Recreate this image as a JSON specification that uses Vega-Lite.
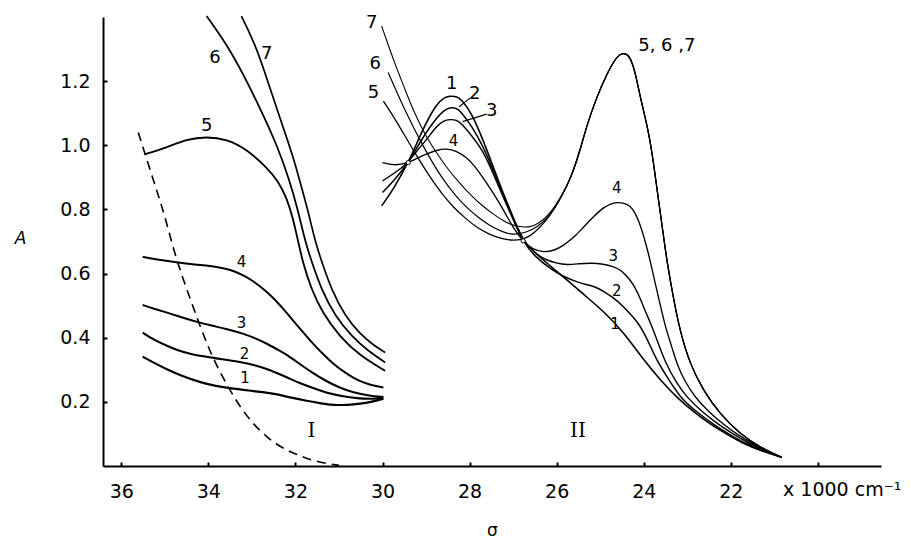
{
  "$schema": "https://vega.github.io/schema/vega-lite/v6.json",
  "width": 778,
  "height": 449,
  "autosize": {"type": "none"},
  "padding": {"left": 103, "top": 17, "right": 30, "bottom": 74},
  "background": "white",
  "config": {
    "view": {"stroke": null},
    "axis": {"grid": false, "domainColor": "black", "tickColor": "black", "labelColor": "black", "titleColor": "black", "labelFont": "DejaVu Sans", "titleFont": "DejaVu Sans", "titleFontWeight": "normal"}
  },
  "datasets": {
    "curves": [
      {"c":"I-1","sigma":35.51,"A":0.341},{"c":"I-1","sigma":35.2,"A":0.318},{"c":"I-1","sigma":34.96,"A":0.302},{"c":"I-1","sigma":34.6,"A":0.28},{"c":"I-1","sigma":34.19,"A":0.261},{"c":"I-1","sigma":33.85,"A":0.25},{"c":"I-1","sigma":33.54,"A":0.243},{"c":"I-1","sigma":33.05,"A":0.235},{"c":"I-1","sigma":32.7,"A":0.23},{"c":"I-1","sigma":32.43,"A":0.224},{"c":"I-1","sigma":32.1,"A":0.213},{"c":"I-1","sigma":31.74,"A":0.203},{"c":"I-1","sigma":31.4,"A":0.195},{"c":"I-1","sigma":31.13,"A":0.19},{"c":"I-1","sigma":30.8,"A":0.19},{"c":"I-1","sigma":30.52,"A":0.194},{"c":"I-1","sigma":30.2,"A":0.201},{"c":"I-1","sigma":29.98,"A":0.21},
      {"c":"I-2","sigma":35.51,"A":0.416},{"c":"I-2","sigma":35.25,"A":0.393},{"c":"I-2","sigma":34.96,"A":0.375},{"c":"I-2","sigma":34.7,"A":0.36},{"c":"I-2","sigma":34.42,"A":0.349},{"c":"I-2","sigma":33.85,"A":0.336},{"c":"I-2","sigma":33.28,"A":0.325},{"c":"I-2","sigma":32.89,"A":0.313},{"c":"I-2","sigma":32.66,"A":0.303},{"c":"I-2","sigma":32.43,"A":0.29},{"c":"I-2","sigma":32.2,"A":0.277},{"c":"I-2","sigma":31.9,"A":0.258},{"c":"I-2","sigma":31.6,"A":0.243},{"c":"I-2","sigma":31.28,"A":0.228},{"c":"I-2","sigma":30.9,"A":0.217},{"c":"I-2","sigma":30.52,"A":0.21},{"c":"I-2","sigma":30.2,"A":0.209},{"c":"I-2","sigma":29.98,"A":0.213},
      {"c":"I-3","sigma":35.51,"A":0.502},{"c":"I-3","sigma":35.25,"A":0.49},{"c":"I-3","sigma":34.96,"A":0.479},{"c":"I-3","sigma":34.6,"A":0.463},{"c":"I-3","sigma":34.23,"A":0.448},{"c":"I-3","sigma":33.9,"A":0.437},{"c":"I-3","sigma":33.58,"A":0.427},{"c":"I-3","sigma":33.2,"A":0.413},{"c":"I-3","sigma":32.9,"A":0.397},{"c":"I-3","sigma":32.66,"A":0.382},{"c":"I-3","sigma":32.4,"A":0.362},{"c":"I-3","sigma":32.2,"A":0.347},{"c":"I-3","sigma":31.9,"A":0.318},{"c":"I-3","sigma":31.6,"A":0.29},{"c":"I-3","sigma":31.3,"A":0.265},{"c":"I-3","sigma":31.0,"A":0.245},{"c":"I-3","sigma":30.67,"A":0.229},{"c":"I-3","sigma":30.3,"A":0.219},{"c":"I-3","sigma":29.98,"A":0.215},
      {"c":"I-4","sigma":35.51,"A":0.652},{"c":"I-4","sigma":35.2,"A":0.644},{"c":"I-4","sigma":34.73,"A":0.635},{"c":"I-4","sigma":34.3,"A":0.628},{"c":"I-4","sigma":33.96,"A":0.624},{"c":"I-4","sigma":33.65,"A":0.617},{"c":"I-4","sigma":33.43,"A":0.609},{"c":"I-4","sigma":33.2,"A":0.595},{"c":"I-4","sigma":32.97,"A":0.577},{"c":"I-4","sigma":32.75,"A":0.553},{"c":"I-4","sigma":32.51,"A":0.525},{"c":"I-4","sigma":32.28,"A":0.49},{"c":"I-4","sigma":32.05,"A":0.453},{"c":"I-4","sigma":31.8,"A":0.413},{"c":"I-4","sigma":31.59,"A":0.38},{"c":"I-4","sigma":31.35,"A":0.347},{"c":"I-4","sigma":31.13,"A":0.318},{"c":"I-4","sigma":30.85,"A":0.29},{"c":"I-4","sigma":30.59,"A":0.268},{"c":"I-4","sigma":30.3,"A":0.253},{"c":"I-4","sigma":29.98,"A":0.245},
      {"c":"I-5","sigma":35.46,"A":0.972},{"c":"I-5","sigma":34.96,"A":0.993},{"c":"I-5","sigma":34.5,"A":1.019},{"c":"I-5","sigma":34.04,"A":1.027},{"c":"I-5","sigma":33.58,"A":1.019},{"c":"I-5","sigma":33.12,"A":0.988},{"c":"I-5","sigma":32.66,"A":0.931},{"c":"I-5","sigma":32.4,"A":0.889},{"c":"I-5","sigma":32.2,"A":0.836},{"c":"I-5","sigma":32.06,"A":0.774},{"c":"I-5","sigma":31.94,"A":0.702},{"c":"I-5","sigma":31.83,"A":0.634},{"c":"I-5","sigma":31.64,"A":0.553},{"c":"I-5","sigma":31.37,"A":0.475},{"c":"I-5","sigma":30.98,"A":0.403},{"c":"I-5","sigma":30.52,"A":0.344},{"c":"I-5","sigma":29.94,"A":0.297},
      {"c":"I-6","sigma":34.04,"A":1.403},{"c":"I-6","sigma":33.58,"A":1.315},{"c":"I-6","sigma":33.2,"A":1.222},{"c":"I-6","sigma":32.82,"A":1.118},{"c":"I-6","sigma":32.43,"A":1.003},{"c":"I-6","sigma":32.13,"A":0.889},{"c":"I-6","sigma":31.94,"A":0.796},{"c":"I-6","sigma":31.78,"A":0.702},{"c":"I-6","sigma":31.62,"A":0.634},{"c":"I-6","sigma":31.39,"A":0.546},{"c":"I-6","sigma":31.09,"A":0.468},{"c":"I-6","sigma":30.7,"A":0.403},{"c":"I-6","sigma":30.33,"A":0.359},{"c":"I-6","sigma":29.94,"A":0.323},
      {"c":"I-7","sigma":33.24,"A":1.403},{"c":"I-7","sigma":32.89,"A":1.305},{"c":"I-7","sigma":32.59,"A":1.18},{"c":"I-7","sigma":32.28,"A":1.055},{"c":"I-7","sigma":32.06,"A":0.967},{"c":"I-7","sigma":31.9,"A":0.889},{"c":"I-7","sigma":31.71,"A":0.796},{"c":"I-7","sigma":31.55,"A":0.702},{"c":"I-7","sigma":31.39,"A":0.634},{"c":"I-7","sigma":31.16,"A":0.546},{"c":"I-7","sigma":30.86,"A":0.468},{"c":"I-7","sigma":30.52,"A":0.412},{"c":"I-7","sigma":30.22,"A":0.378},{"c":"I-7","sigma":29.94,"A":0.354},
      {"c":"II-1","sigma":30.02,"A":0.811},{"c":"II-1","sigma":29.75,"A":0.863},{"c":"II-1","sigma":29.41,"A":0.946},{"c":"II-1","sigma":29.2,"A":1.01},{"c":"II-1","sigma":29.0,"A":1.07},{"c":"II-1","sigma":28.76,"A":1.128},{"c":"II-1","sigma":28.6,"A":1.148},{"c":"II-1","sigma":28.45,"A":1.154},{"c":"II-1","sigma":28.3,"A":1.152},{"c":"II-1","sigma":28.2,"A":1.145},{"c":"II-1","sigma":27.95,"A":1.1},{"c":"II-1","sigma":27.7,"A":1.02},{"c":"II-1","sigma":27.45,"A":0.93},{"c":"II-1","sigma":27.2,"A":0.84},{"c":"II-1","sigma":26.95,"A":0.76},{"c":"II-1","sigma":26.77,"A":0.7},{"c":"II-1","sigma":26.46,"A":0.661},{"c":"II-1","sigma":26.2,"A":0.63},{"c":"II-1","sigma":25.92,"A":0.598},{"c":"II-1","sigma":25.65,"A":0.567},{"c":"II-1","sigma":25.39,"A":0.536},{"c":"II-1","sigma":24.9,"A":0.48},{"c":"II-1","sigma":24.45,"A":0.415},{"c":"II-1","sigma":24.0,"A":0.33},{"c":"II-1","sigma":23.6,"A":0.265},{"c":"II-1","sigma":23.24,"A":0.214},{"c":"II-1","sigma":22.85,"A":0.168},{"c":"II-1","sigma":22.47,"A":0.13},{"c":"II-1","sigma":22.1,"A":0.1},{"c":"II-1","sigma":21.75,"A":0.072},{"c":"II-1","sigma":21.3,"A":0.047},{"c":"II-1","sigma":20.83,"A":0.027},
      {"c":"II-2","sigma":30.0,"A":0.853},{"c":"II-2","sigma":29.7,"A":0.895},{"c":"II-2","sigma":29.41,"A":0.946},{"c":"II-2","sigma":29.2,"A":0.995},{"c":"II-2","sigma":29.0,"A":1.04},{"c":"II-2","sigma":28.76,"A":1.085},{"c":"II-2","sigma":28.6,"A":1.108},{"c":"II-2","sigma":28.45,"A":1.118},{"c":"II-2","sigma":28.3,"A":1.116},{"c":"II-2","sigma":28.2,"A":1.105},{"c":"II-2","sigma":27.95,"A":1.06},{"c":"II-2","sigma":27.7,"A":1.0},{"c":"II-2","sigma":27.45,"A":0.92},{"c":"II-2","sigma":27.2,"A":0.835},{"c":"II-2","sigma":26.95,"A":0.757},{"c":"II-2","sigma":26.77,"A":0.7},{"c":"II-2","sigma":26.5,"A":0.652},{"c":"II-2","sigma":26.08,"A":0.609},{"c":"II-2","sigma":25.8,"A":0.588},{"c":"II-2","sigma":25.54,"A":0.574},{"c":"II-2","sigma":25.3,"A":0.565},{"c":"II-2","sigma":25.08,"A":0.557},{"c":"II-2","sigma":24.9,"A":0.543},{"c":"II-2","sigma":24.7,"A":0.525},{"c":"II-2","sigma":24.5,"A":0.502},{"c":"II-2","sigma":24.31,"A":0.474},{"c":"II-2","sigma":24.15,"A":0.45},{"c":"II-2","sigma":24.01,"A":0.42},{"c":"II-2","sigma":23.85,"A":0.375},{"c":"II-2","sigma":23.72,"A":0.335},{"c":"II-2","sigma":23.5,"A":0.285},{"c":"II-2","sigma":23.17,"A":0.214},{"c":"II-2","sigma":22.8,"A":0.17},{"c":"II-2","sigma":22.4,"A":0.13},{"c":"II-2","sigma":22.05,"A":0.1},{"c":"II-2","sigma":21.7,"A":0.072},{"c":"II-2","sigma":21.25,"A":0.047},{"c":"II-2","sigma":20.83,"A":0.027},
      {"c":"II-3","sigma":30.0,"A":0.889},{"c":"II-3","sigma":29.7,"A":0.915},{"c":"II-3","sigma":29.41,"A":0.946},{"c":"II-3","sigma":29.2,"A":0.985},{"c":"II-3","sigma":29.0,"A":1.015},{"c":"II-3","sigma":28.76,"A":1.06},{"c":"II-3","sigma":28.6,"A":1.077},{"c":"II-3","sigma":28.45,"A":1.081},{"c":"II-3","sigma":28.3,"A":1.079},{"c":"II-3","sigma":28.2,"A":1.07},{"c":"II-3","sigma":27.95,"A":1.03},{"c":"II-3","sigma":27.7,"A":0.985},{"c":"II-3","sigma":27.45,"A":0.91},{"c":"II-3","sigma":27.2,"A":0.83},{"c":"II-3","sigma":26.95,"A":0.753},{"c":"II-3","sigma":26.77,"A":0.7},{"c":"II-3","sigma":26.5,"A":0.665},{"c":"II-3","sigma":26.3,"A":0.645},{"c":"II-3","sigma":26.0,"A":0.632},{"c":"II-3","sigma":25.77,"A":0.627},{"c":"II-3","sigma":25.47,"A":0.631},{"c":"II-3","sigma":25.2,"A":0.633},{"c":"II-3","sigma":24.93,"A":0.63},{"c":"II-3","sigma":24.7,"A":0.622},{"c":"II-3","sigma":24.54,"A":0.612},{"c":"II-3","sigma":24.38,"A":0.592},{"c":"II-3","sigma":24.24,"A":0.567},{"c":"II-3","sigma":24.1,"A":0.53},{"c":"II-3","sigma":23.97,"A":0.484},{"c":"II-3","sigma":23.85,"A":0.448},{"c":"II-3","sigma":23.74,"A":0.41},{"c":"II-3","sigma":23.5,"A":0.32},{"c":"II-3","sigma":23.25,"A":0.26},{"c":"II-3","sigma":23.01,"A":0.214},{"c":"II-3","sigma":22.65,"A":0.168},{"c":"II-3","sigma":22.29,"A":0.13},{"c":"II-3","sigma":21.95,"A":0.1},{"c":"II-3","sigma":21.6,"A":0.072},{"c":"II-3","sigma":21.2,"A":0.047},{"c":"II-3","sigma":20.83,"A":0.027},
      {"c":"II-4","sigma":30.0,"A":0.946},{"c":"II-4","sigma":29.7,"A":0.936},{"c":"II-4","sigma":29.41,"A":0.946},{"c":"II-4","sigma":29.2,"A":0.96},{"c":"II-4","sigma":29.0,"A":0.972},{"c":"II-4","sigma":28.76,"A":0.985},{"c":"II-4","sigma":28.53,"A":0.99},{"c":"II-4","sigma":28.3,"A":0.982},{"c":"II-4","sigma":28.07,"A":0.962},{"c":"II-4","sigma":27.88,"A":0.935},{"c":"II-4","sigma":27.69,"A":0.899},{"c":"II-4","sigma":27.5,"A":0.86},{"c":"II-4","sigma":27.3,"A":0.817},{"c":"II-4","sigma":27.15,"A":0.78},{"c":"II-4","sigma":27.0,"A":0.744},{"c":"II-4","sigma":26.77,"A":0.7},{"c":"II-4","sigma":26.55,"A":0.675},{"c":"II-4","sigma":26.3,"A":0.666},{"c":"II-4","sigma":26.05,"A":0.672},{"c":"II-4","sigma":25.85,"A":0.687},{"c":"II-4","sigma":25.6,"A":0.713},{"c":"II-4","sigma":25.39,"A":0.744},{"c":"II-4","sigma":25.15,"A":0.778},{"c":"II-4","sigma":24.93,"A":0.806},{"c":"II-4","sigma":24.75,"A":0.818},{"c":"II-4","sigma":24.62,"A":0.822},{"c":"II-4","sigma":24.45,"A":0.82},{"c":"II-4","sigma":24.31,"A":0.811},{"c":"II-4","sigma":24.2,"A":0.79},{"c":"II-4","sigma":24.08,"A":0.754},{"c":"II-4","sigma":23.9,"A":0.67},{"c":"II-4","sigma":23.72,"A":0.56},{"c":"II-4","sigma":23.5,"A":0.43},{"c":"II-4","sigma":23.35,"A":0.37},{"c":"II-4","sigma":23.24,"A":0.318},{"c":"II-4","sigma":23.05,"A":0.262},{"c":"II-4","sigma":22.82,"A":0.214},{"c":"II-4","sigma":22.5,"A":0.168},{"c":"II-4","sigma":22.17,"A":0.13},{"c":"II-4","sigma":21.85,"A":0.098},{"c":"II-4","sigma":21.5,"A":0.07},{"c":"II-4","sigma":21.15,"A":0.045},{"c":"II-4","sigma":20.83,"A":0.027},
      {"c":"II-5","sigma":29.98,"A":1.138},{"c":"II-5","sigma":29.68,"A":1.076},{"c":"II-5","sigma":29.29,"A":0.983},{"c":"II-5","sigma":28.83,"A":0.884},{"c":"II-5","sigma":28.6,"A":0.843},{"c":"II-5","sigma":28.37,"A":0.806},{"c":"II-5","sigma":28.1,"A":0.773},{"c":"II-5","sigma":27.84,"A":0.744},{"c":"II-5","sigma":27.55,"A":0.722},{"c":"II-5","sigma":27.23,"A":0.707},{"c":"II-5","sigma":27.0,"A":0.703},{"c":"II-5","sigma":26.77,"A":0.707},{"c":"II-5","sigma":26.6,"A":0.718},{"c":"II-5","sigma":26.45,"A":0.735},{"c":"II-5","sigma":26.2,"A":0.77},{"c":"II-5","sigma":25.9,"A":0.835},{"c":"II-5","sigma":25.65,"A":0.905},{"c":"II-5","sigma":25.45,"A":0.99},{"c":"II-5","sigma":25.3,"A":1.065},{"c":"II-5","sigma":25.08,"A":1.15},{"c":"II-5","sigma":24.85,"A":1.222},{"c":"II-5","sigma":24.66,"A":1.268},{"c":"II-5","sigma":24.55,"A":1.283},{"c":"II-5","sigma":24.47,"A":1.287},{"c":"II-5","sigma":24.38,"A":1.283},{"c":"II-5","sigma":24.31,"A":1.273},{"c":"II-5","sigma":24.2,"A":1.232},{"c":"II-5","sigma":24.08,"A":1.149},{"c":"II-5","sigma":23.89,"A":1.045},{"c":"II-5","sigma":23.78,"A":0.951},{"c":"II-5","sigma":23.66,"A":0.827},{"c":"II-5","sigma":23.55,"A":0.723},{"c":"II-5","sigma":23.47,"A":0.64},{"c":"II-5","sigma":23.32,"A":0.525},{"c":"II-5","sigma":23.17,"A":0.422},{"c":"II-5","sigma":22.94,"A":0.318},{"c":"II-5","sigma":22.63,"A":0.235},{"c":"II-5","sigma":22.25,"A":0.162},{"c":"II-5","sigma":21.79,"A":0.1},{"c":"II-5","sigma":21.33,"A":0.058},{"c":"II-5","sigma":20.83,"A":0.027},
      {"c":"II-6","sigma":29.87,"A":1.227},{"c":"II-6","sigma":29.52,"A":1.118},{"c":"II-6","sigma":29.06,"A":0.993},{"c":"II-6","sigma":28.6,"A":0.889},{"c":"II-6","sigma":28.3,"A":0.84},{"c":"II-6","sigma":28.07,"A":0.806},{"c":"II-6","sigma":27.8,"A":0.775},{"c":"II-6","sigma":27.53,"A":0.749},{"c":"II-6","sigma":27.25,"A":0.73},{"c":"II-6","sigma":27.0,"A":0.72},{"c":"II-6","sigma":26.69,"A":0.728},{"c":"II-6","sigma":26.45,"A":0.745},{"c":"II-6","sigma":26.2,"A":0.772},{"c":"II-6","sigma":25.9,"A":0.835},{"c":"II-6","sigma":25.65,"A":0.905},{"c":"II-6","sigma":25.45,"A":0.99},{"c":"II-6","sigma":25.3,"A":1.065},{"c":"II-6","sigma":25.08,"A":1.15},{"c":"II-6","sigma":24.85,"A":1.222},{"c":"II-6","sigma":24.66,"A":1.268},{"c":"II-6","sigma":24.55,"A":1.283},{"c":"II-6","sigma":24.47,"A":1.287},{"c":"II-6","sigma":24.38,"A":1.283},{"c":"II-6","sigma":24.31,"A":1.273},{"c":"II-6","sigma":24.2,"A":1.232},{"c":"II-6","sigma":24.08,"A":1.149},{"c":"II-6","sigma":23.89,"A":1.045},{"c":"II-6","sigma":23.78,"A":0.951},{"c":"II-6","sigma":23.66,"A":0.827},{"c":"II-6","sigma":23.55,"A":0.723},{"c":"II-6","sigma":23.47,"A":0.64},{"c":"II-6","sigma":23.32,"A":0.525},{"c":"II-6","sigma":23.17,"A":0.422},{"c":"II-6","sigma":22.94,"A":0.318},{"c":"II-6","sigma":22.63,"A":0.235},{"c":"II-6","sigma":22.25,"A":0.162},{"c":"II-6","sigma":21.79,"A":0.1},{"c":"II-6","sigma":21.33,"A":0.058},{"c":"II-6","sigma":20.83,"A":0.027},
      {"c":"II-7","sigma":30.02,"A":1.372},{"c":"II-7","sigma":29.85,"A":1.305},{"c":"II-7","sigma":29.68,"A":1.242},{"c":"II-7","sigma":29.5,"A":1.18},{"c":"II-7","sigma":29.29,"A":1.107},{"c":"II-7","sigma":28.99,"A":1.024},{"c":"II-7","sigma":28.75,"A":0.975},{"c":"II-7","sigma":28.53,"A":0.931},{"c":"II-7","sigma":28.25,"A":0.885},{"c":"II-7","sigma":28.0,"A":0.848},{"c":"II-7","sigma":27.7,"A":0.81},{"c":"II-7","sigma":27.45,"A":0.785},{"c":"II-7","sigma":27.2,"A":0.762},{"c":"II-7","sigma":27.0,"A":0.75},{"c":"II-7","sigma":26.8,"A":0.745},{"c":"II-7","sigma":26.61,"A":0.745},{"c":"II-7","sigma":26.45,"A":0.753},{"c":"II-7","sigma":26.2,"A":0.778},{"c":"II-7","sigma":25.9,"A":0.837},{"c":"II-7","sigma":25.65,"A":0.905},{"c":"II-7","sigma":25.45,"A":0.99},{"c":"II-7","sigma":25.3,"A":1.065},{"c":"II-7","sigma":25.08,"A":1.15},{"c":"II-7","sigma":24.85,"A":1.222},{"c":"II-7","sigma":24.66,"A":1.268},{"c":"II-7","sigma":24.55,"A":1.283},{"c":"II-7","sigma":24.47,"A":1.287},{"c":"II-7","sigma":24.38,"A":1.283},{"c":"II-7","sigma":24.31,"A":1.273},{"c":"II-7","sigma":24.2,"A":1.232},{"c":"II-7","sigma":24.08,"A":1.149},{"c":"II-7","sigma":23.89,"A":1.045},{"c":"II-7","sigma":23.78,"A":0.951},{"c":"II-7","sigma":23.66,"A":0.827},{"c":"II-7","sigma":23.55,"A":0.723},{"c":"II-7","sigma":23.47,"A":0.64},{"c":"II-7","sigma":23.32,"A":0.525},{"c":"II-7","sigma":23.17,"A":0.422},{"c":"II-7","sigma":22.94,"A":0.318},{"c":"II-7","sigma":22.63,"A":0.235},{"c":"II-7","sigma":22.25,"A":0.162},{"c":"II-7","sigma":21.79,"A":0.1},{"c":"II-7","sigma":21.33,"A":0.058},{"c":"II-7","sigma":20.83,"A":0.027}
    ],
    "dashed": [
      {"sigma":35.61,"A":1.04},{"sigma":35.4,"A":0.95},{"sigma":35.2,"A":0.865},{"sigma":35.0,"A":0.78},{"sigma":34.8,"A":0.675},{"sigma":34.6,"A":0.59},{"sigma":34.4,"A":0.515},{"sigma":34.2,"A":0.44},{"sigma":34.0,"A":0.37},{"sigma":33.8,"A":0.31},{"sigma":33.54,"A":0.245},{"sigma":33.3,"A":0.19},{"sigma":33.0,"A":0.135},{"sigma":32.66,"A":0.09},{"sigma":32.35,"A":0.06},{"sigma":32.05,"A":0.04},{"sigma":31.75,"A":0.024},{"sigma":31.44,"A":0.011},{"sigma":31.0,"A":0.002}
    ],
    "labelsBig": [
      {"t":"6","sigma":33.85,"A":1.273},{"t":"7","sigma":32.66,"A":1.284},{"t":"5","sigma":34.04,"A":1.061},
      {"t":"7","sigma":30.25,"A":1.382},{"t":"6","sigma":30.17,"A":1.253},{"t":"5","sigma":30.21,"A":1.164},{"t":"1","sigma":28.41,"A":1.19},{"t":"2","sigma":27.88,"A":1.159},{"t":"3","sigma":27.49,"A":1.107},
      {"t":"5, 6 ,7","sigma":23.47,"A":1.31}
    ],
    "labelsSmall": [
      {"t":"4","sigma":33.24,"A":0.635},{"t":"3","sigma":33.24,"A":0.445},{"t":"2","sigma":33.17,"A":0.349},{"t":"1","sigma":33.16,"A":0.274},
      {"t":"4","sigma":28.37,"A":1.014},
      {"t":"4","sigma":24.62,"A":0.868},{"t":"3","sigma":24.7,"A":0.655},{"t":"2","sigma":24.62,"A":0.546},{"t":"1","sigma":24.66,"A":0.442}
    ],
    "romans": [
      {"t":"I","sigma":31.63,"A":0.11},{"t":"II","sigma":25.51,"A":0.11}
    ],
    "leaders": [
      {"sigma":27.99,"A":1.147,"sigma2":28.24,"A2":1.12},{"sigma":27.61,"A":1.097,"sigma2":28.16,"A2":1.074}
    ],
    "iso": [
      {"sigma":29.41,"A":0.946},{"sigma":26.77,"A":0.702}
    ],
    "unit": [
      {"t":"x 1000 cm⁻¹","sigma":20.8,"A":-0.075}
    ]
  },
  "encoding": {
    "x": {"field":"sigma","type":"quantitative","scale":{"domain":[18.55,36.42],"reverse":true,"nice":false,"zero":false},
      "axis":{"values":[36,34,32,30,28,26,24,22,20],"labelExpr":"datum.value == 20 ? '' : datum.label","title":"σ","titleFontSize":17,"titleY":64,"titleBaseline":"middle","tickSize":-4,"tickWidth":2,"domainWidth":2,"labelPadding":20,"labelFontSize":19}},
    "y": {"field":"A","type":"quantitative","scale":{"domain":[0,1.4],"nice":false,"zero":false},
      "axis":{"values":[0.2,0.4,0.6,0.8,1.0,1.2],"format":".1f","title":"A","titleAngle":0,"titleFontStyle":"italic","titleFontSize":17,"titleX":-83,"titleY":221,"titleAlign":"center","titleBaseline":"middle","tickSize":-4,"tickWidth":2,"domainWidth":2,"labelPadding":17,"labelFontSize":19}}
  },
  "layer": [
    {"data":{"name":"curves"},"mark":{"type":"line","interpolate":"basis","color":"black"},
     "encoding":{"detail":{"field":"c","type":"nominal"},
       "strokeWidth":{"field":"c","type":"nominal","legend":null,
         "scale":{"domain":["I-1","I-2","I-3","I-4","I-5","I-6","I-7","II-1","II-2","II-3","II-4","II-5","II-6","II-7"],
                  "range":[2.2,1.1,1.4,2.0,2.2,2.2,2.0,2.1,1.3,1.8,1.7,1.6,2.4,1.7]}}}},
    {"data":{"name":"dashed"},"mark":{"type":"line","interpolate":"basis","color":"black","strokeWidth":1.6,"strokeDash":[9,6]},"encoding":{}},
    {"data":{"name":"leaders"},"mark":{"type":"rule","color":"black","strokeWidth":1.2},
     "encoding":{"x2":{"field":"sigma2"},"y2":{"field":"A2"}}},
    {"data":{"name":"iso"},"mark":{"type":"point","shape":"circle","filled":true,"fill":"white","stroke":"black","strokeWidth":1,"size":18,"opacity":1},"encoding":{}},
    {"data":{"name":"labelsBig"},"mark":{"type":"text","font":"DejaVu Sans","fontSize":18,"color":"black","align":"center","baseline":"middle"},
     "encoding":{"text":{"field":"t"}}},
    {"data":{"name":"labelsSmall"},"mark":{"type":"text","font":"DejaVu Sans","fontSize":15,"color":"black","align":"center","baseline":"middle"},
     "encoding":{"text":{"field":"t"}}},
    {"data":{"name":"romans"},"mark":{"type":"text","font":"DejaVu Serif","fontSize":20,"color":"black","align":"center","baseline":"middle"},
     "encoding":{"text":{"field":"t"}}},
    {"data":{"name":"unit"},"mark":{"type":"text","font":"DejaVu Sans","fontSize":19,"color":"black","align":"left","baseline":"middle"},
     "encoding":{"text":{"field":"t"}}}
  ]
}
